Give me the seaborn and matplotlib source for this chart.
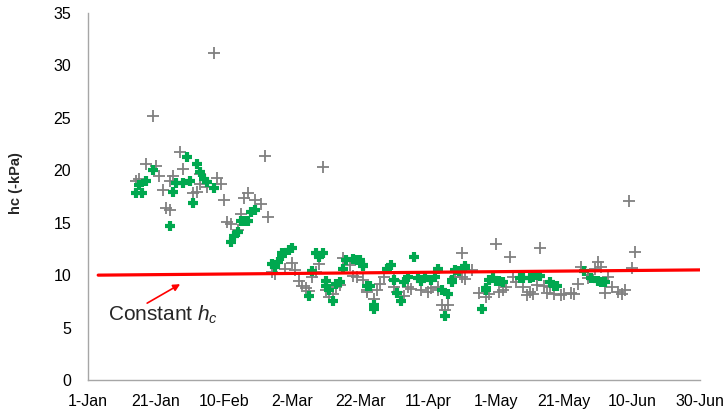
import pandas as pd
import seaborn as sns
import matplotlib.pyplot as plt

# days counted from 1 Jan, values in -kPa
grey_day = [37, 19, 52, 27, 17, 20, 28, 21, 15, 14, 25, 24, 33, 38, 39, 33,
            22, 31, 32, 35, 40, 23, 24, 47, 46, 49, 51, 53, 41, 42, 45, 44,
            69, 54, 55, 60, 58, 61, 62, 63, 64, 65, 66, 68, 67, 70, 71, 72,
            74, 73, 75, 77, 78, 79, 81, 82, 82, 84, 85, 86, 87, 90, 90, 91,
            93, 94, 95, 98, 100, 101, 103, 103, 104, 106, 110, 108, 110, 111,
            113, 115, 117, 159, 161, 160, 120, 124, 133, 118, 121, 122, 123,
            125, 126, 128, 129, 130, 131, 132, 134, 135, 136, 137, 139, 140,
            142, 143, 144, 145, 147, 147, 149, 150, 151, 153, 154, 152, 156,
            157, 158, 105]
grey_hc = [31.2, 25.2, 21.4, 21.7, 20.6, 20.4, 20.1, 19.5, 19.2, 19.0, 19.5,
           19.0, 19.6, 19.3, 18.7, 18.7, 18.1, 17.8, 17.9, 18.4, 17.2, 16.4,
           16.2, 17.8, 17.4, 17.2, 16.8, 15.5, 15.1, 14.9, 15.8, 14.3,
           20.3, 10.3, 10.1, 11.2, 10.6, 10.5, 9.4, 9.0, 8.8, 8.5, 9.8, 11.1,
           10.3, 8.6, 7.9, 8.2, 9.1, 8.9, 11.6, 11.0, 9.9, 9.8, 9.5, 8.6, 8.4,
           7.7, 8.6, 9.2, 9.8, 9.5, 8.9, 8.4, 8.0, 8.9, 8.7, 8.6, 8.4, 8.8,
           8.9, 8.6, 7.2, 7.2, 12.1, 9.8, 9.8, 9.6, 10.5, 8.3, 7.9, 17.1,
           12.2, 10.7, 13.0, 11.7, 12.6, 8.2, 8.4, 8.6, 8.9, 9.8, 9.3, 8.9,
           8.1, 8.4, 8.2, 9.1, 9.0, 8.3, 8.9, 8.2, 8.1, 8.2, 8.3, 8.2, 9.2,
           10.8, 10.0, 9.7, 10.6, 11.3, 10.8, 9.8, 8.9, 8.3, 8.4, 8.2, 8.6,
           6.7]

green_day = [29, 32, 19, 17, 15, 14, 16, 25, 26, 28, 30, 33, 34, 35, 37, 31,
             24, 48, 49, 45, 46, 47, 44, 43, 42, 54, 55, 56, 57, 57, 59, 60,
             65, 67, 68, 69, 66, 70, 70, 71, 72, 73, 74, 75, 76, 78, 79, 80,
             81, 81, 82, 83, 84, 84, 88, 89, 90, 92, 91, 93, 94, 96, 97, 98,
             99, 101, 102, 103, 104, 106, 105, 107, 107, 108, 109, 111, 111,
             116, 117, 118, 117, 119, 120, 121, 122, 127, 128, 130, 131, 132,
             133, 136, 137, 138, 146, 148, 150, 151, 152]
green_hc = [21.3, 20.6, 20.0, 19.0, 18.6, 17.8, 17.8, 17.9, 18.8, 18.8, 19.0,
            19.8, 19.2, 18.9, 18.3, 16.9, 14.7, 16.0, 16.2, 15.2, 15.2, 15.2,
            14.1, 13.7, 13.2, 11.1, 10.8, 11.3, 11.8, 12.1, 12.4, 12.6, 8.0,
            12.1, 11.7, 12.1, 10.4, 9.4, 9.0, 8.6, 7.5, 9.2, 9.3, 10.6, 11.4,
            11.5, 11.4, 11.4, 11.0, 10.9, 9.0, 9.0, 7.2, 6.8, 10.6, 11.0, 9.5,
            7.5, 8.3, 9.3, 9.8, 11.7, 9.7, 9.4, 9.8, 9.5, 9.8, 10.6, 8.6, 8.2,
            6.1, 9.3, 9.5, 10.5, 10.4, 10.7, 10.9, 6.8, 8.6, 9.5, 8.8, 9.7,
            9.4, 9.4, 9.3, 9.7, 9.7, 9.7, 9.8, 10.0, 9.9, 9.3, 9.0, 9.0, 10.4,
            9.7, 9.4, 9.3, 9.3]

const_day = [3, 180]
const_hc = [10.0, 10.5]

tick_day = [0, 20, 40, 60, 80, 100, 120, 140, 160, 180]
tick_lab = ["1-Jan", "21-Jan", "10-Feb", "2-Mar", "22-Mar", "11-Apr",
            "1-May", "21-May", "10-Jun", "30-Jun"]

start = pd.Timestamp("2015-01-01")


def to_date(days):
    return start + pd.to_timedelta(days, unit="D")


def main():
    sns.set_style("white")
    plt.rcParams["font.family"] = ["Liberation Sans", "DejaVu Sans"]
    plt.rcParams["mathtext.fontset"] = "custom"
    plt.rcParams["mathtext.rm"] = "Liberation Sans"
    plt.rcParams["mathtext.it"] = "Liberation Sans:italic"

    grey = pd.DataFrame({"date": to_date(grey_day), "hc": grey_hc})
    green = pd.DataFrame({"date": to_date(green_day), "hc": green_hc})
    const = pd.DataFrame({"date": to_date(const_day), "hc": const_hc})

    fig = plt.figure(figsize=(7.26, 4.12), dpi=100)
    ax = fig.add_axes([88 / 726, 32 / 412, 612 / 726, 367 / 412])

    sns.scatterplot(data=grey, x="date", y="hc", marker="+", s=75,
                    color="#808080", linewidth=1.3, ax=ax, zorder=3)
    sns.scatterplot(data=green, x="date", y="hc", marker="+", s=55,
                    color="#00A84F", linewidth=3, ax=ax, zorder=4)
    sns.lineplot(data=const, x="date", y="hc", color="#FF0000",
                 linewidth=2.3, ax=ax, zorder=5)

    ax.annotate("", xy=(to_date(27.1), 9.14), xytext=(to_date(17.4), 7.33),
                arrowprops=dict(arrowstyle="-|>", color="#FF0000", lw=1.2,
                                mutation_scale=10, shrinkA=0, shrinkB=0))
    ax.text(to_date(5.9), 5.65, r"Constant $h_c$", fontsize=15,
            ha="left", va="baseline")

    ax.set_xlim(to_date(0), to_date(180))
    ax.set_ylim(0, 35)
    ax.set_yticks(range(0, 36, 5))
    ax.set_xticks(to_date(tick_day))
    ax.set_xticklabels(tick_lab)
    ax.tick_params(length=0, labelsize=11.5, colors="#000000")
    ax.tick_params(axis="y", pad=12)
    ax.tick_params(axis="x", pad=10)

    ax.set_xlabel("")
    ax.set_ylabel("hc (-kPa)", fontsize=10.5, fontweight="bold")
    ax.yaxis.set_label_coords(-0.106, 0.536)

    for side in ["top", "right"]:
        ax.spines[side].set_visible(False)
    for side in ["left", "bottom"]:
        ax.spines[side].set_color("#A6A6A6")
        ax.spines[side].set_linewidth(1)

    fig.savefig("out.png", dpi=100)


if __name__ == "__main__":
    main()
